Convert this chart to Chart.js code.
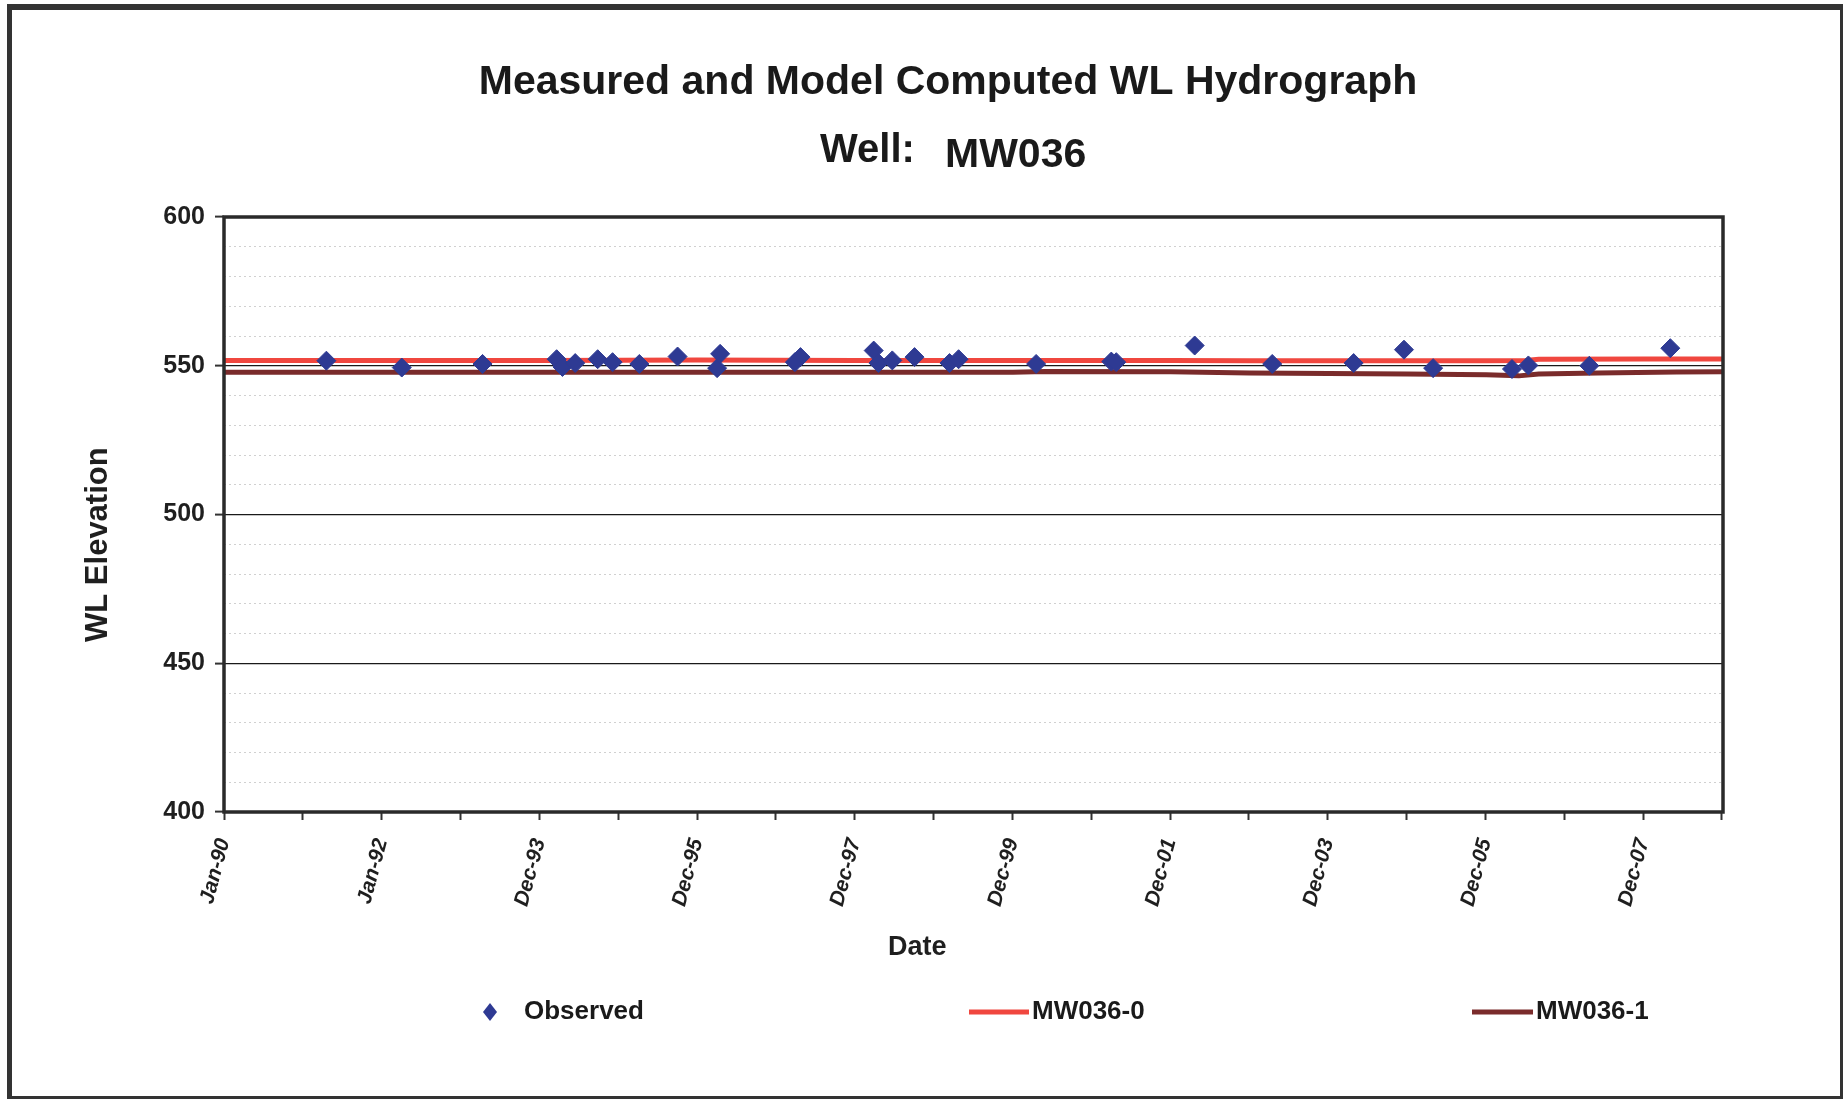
<!DOCTYPE html>
<html>
<head>
<meta charset="utf-8">
<script src="https://cdn.jsdelivr.net/npm/chart.js@4.4.1/dist/chart.umd.min.js"></script>
<style>
html,body{margin:0;padding:0;background:#fff;}
#wrap{width:1846px;height:1099px;position:relative;}
</style>
</head>
<body>
<div id="wrap"><canvas id="c" width="1846" height="1099"></canvas></div>
<script>
// ---------- text ----------
const chartTitle = 'Measured and Model Computed WL Hydrograph';
const wellLabel = 'Well:';
const wellName = 'MW036';
const xAxisTitle = 'Date';
const yAxisTitle = 'WL Elevation';
const seriesNames = ['Observed', 'MW036-0', 'MW036-1'];

// ---------- axes ----------
const xAxisStart = '1990-01-01';
const xAxisEnd = '2009-01-01';
const xTickDates = ['1990-01-01','1992-01-01','1993-12-31','1995-12-31','1997-12-30','1999-12-30','2001-12-29','2003-12-29','2005-12-28','2007-12-28'];
const xTickLabels = ['Jan-90','Jan-92','Dec-93','Dec-95','Dec-97','Dec-99','Dec-01','Dec-03','Dec-05','Dec-07'];
const yMin = 400, yMax = 600, yMajorStep = 50, yMinorStep = 10;

// ---------- observed ----------
const obsDates = ['1991-04-20','1992-04-03','1993-04-12','1994-03-21','1994-04-17','1994-06-15','1994-09-27','1994-12-05',
  '1995-04-08','1995-10-02','1996-04-02','1996-04-16','1997-03-28','1997-04-23','1998-03-28','1998-04-19',
  '1998-06-22','1998-10-03','1999-03-14','1999-04-25','2000-04-18','2001-04-01','2001-04-24','2002-04-22',
  '2003-04-16','2004-04-27','2004-12-16','2005-04-30','2006-04-30','2006-07-15','2007-04-23','2008-05-02'];
const obsValues = [551.7,549.4,550.6,552.2,549.6,550.9,552.2,551.2,
  550.6,553.1,549.2,554.0,551.2,552.9,555.1,550.9,
  551.8,552.9,550.9,552.2,550.6,551.4,551.2,556.8,
  550.6,550.9,555.4,549.2,548.9,550.1,550.0,555.9];

// ---------- model MW036-0 ----------
const model0Dates = ['1990-01-01','1992-01-01','1994-01-01','1996-01-01','1998-01-01','2000-01-01','2002-01-01','2003-01-01',
  '2004-01-01','2005-01-01','2006-01-01','2006-07-01','2006-09-01','2008-01-01','2009-01-01'];
const model0Values = [551.8,551.8,551.8,551.9,551.8,551.8,551.8,551.7,551.7,551.7,551.7,551.8,552.2,552.3,552.3];

// ---------- model MW036-1 ----------
const model1Dates = ['1990-01-01','1992-01-01','1994-01-01','1996-01-01','1998-01-01','2000-01-01','2000-06-01','2002-01-01',
  '2003-01-01','2004-01-01','2005-01-01','2006-01-01','2006-06-01','2006-09-01','2007-06-01','2008-06-01','2009-01-01'];
const model1Values = [547.8,547.8,547.8,547.8,547.8,547.8,548.1,548.0,547.6,547.4,547.2,547.0,546.6,547.2,547.6,547.9,548.0];

// ---------- helpers ----------
const DAY = 86400000;
const base = Date.parse(xAxisStart + 'T00:00:00Z');
const dayOf = d => Math.round((Date.parse(d + 'T00:00:00Z') - base) / DAY);
const toPts = (ds, vs) => ds.map((d, i) => ({x: dayOf(d), y: vs[i]}));
const xTickDays = xTickDates.map(dayOf);

const FONT = '"Liberation Sans", Arial, Helvetica, sans-serif';
const colObs = '#2e3a93';
const col0 = '#f0473f';
const col1 = '#7a2b2b';
const nb = n => '\u00a0'.repeat(n);

const framePlugin = {
  id: 'frame',
  afterDraw(chart) {
    const ctx = chart.ctx, a = chart.chartArea;
    ctx.save();
    // plot frame
    ctx.strokeStyle = '#2a2a2a';
    ctx.lineWidth = 3.5;
    ctx.strokeRect(a.left, a.top, a.right - a.left, a.bottom - a.top);
    // outer frame
    ctx.fillStyle = '#333';
    ctx.fillRect(7, 4, 1835, 6);
    ctx.fillRect(7, 4, 5, 1095);
    ctx.fillRect(1840, 4, 3, 1095);
    ctx.fillRect(7, 1096, 1836, 3);
    // titles
    ctx.fillStyle = '#1a1a1a';
    ctx.textBaseline = 'alphabetic';
    ctx.textAlign = 'center';
    ctx.font = 'bold 41px ' + FONT;
    ctx.fillText(chartTitle, 948, 94);
    ctx.textAlign = 'left';
    ctx.font = 'bold 40px ' + FONT;
    ctx.fillText(wellLabel, 820, 162);
    ctx.font = 'bold 41px ' + FONT;
    ctx.fillText(wellName, 945, 167);
    // legend
    const ly = 1012;
    const ds = chart.data.datasets;
    ctx.font = 'bold 26px ' + FONT;
    ctx.textBaseline = 'middle';
    // observed diamond
    ctx.fillStyle = ds[0].backgroundColor;
    ctx.beginPath();
    ctx.moveTo(490, ly - 9); ctx.lineTo(497, ly); ctx.lineTo(490, ly + 9); ctx.lineTo(483, ly); ctx.closePath();
    ctx.fill();
    ctx.fillStyle = '#1a1a1a';
    ctx.fillText(ds[0].label, 524, ly);
    // lines
    ctx.lineWidth = 5;
    ctx.lineCap = 'butt';
    ctx.strokeStyle = ds[1].borderColor;
    ctx.beginPath(); ctx.moveTo(969, ly); ctx.lineTo(1029, ly); ctx.stroke();
    ctx.fillText(ds[1].label, 1032, ly);
    ctx.strokeStyle = ds[2].borderColor;
    ctx.beginPath(); ctx.moveTo(1472, ly); ctx.lineTo(1533, ly); ctx.stroke();
    ctx.fillText(ds[2].label, 1536, ly);
    ctx.restore();
  }
};

new Chart(document.getElementById('c'), {
  type: 'scatter',
  data: {
    datasets: [
      {
        label: seriesNames[0],
        data: toPts(obsDates, obsValues),
        pointStyle: 'rectRot',
        pointRadius: 9.5,
        backgroundColor: colObs,
        borderColor: colObs,
        borderWidth: 1,
        showLine: false
      },
      {
        label: seriesNames[1],
        data: toPts(model0Dates, model0Values),
        showLine: true,
        pointRadius: 0,
        borderColor: col0,
        backgroundColor: col0,
        borderWidth: 5,
        tension: 0
      },
      {
        label: seriesNames[2],
        data: toPts(model1Dates, model1Values),
        showLine: true,
        pointRadius: 0,
        borderColor: col1,
        backgroundColor: col1,
        borderWidth: 5,
        tension: 0
      }
    ]
  },
  options: {
    responsive: false,
    animation: false,
    events: [],
    layout: { padding: { left: 0, right: 123, top: 217, bottom: 0 } },
    plugins: {
      legend: { display: false },
      title: { display: false },
      tooltip: { enabled: false }
    },
    scales: {
      x: {
        type: 'linear',
        min: dayOf(xAxisStart),
        max: dayOf(xAxisEnd),
        afterBuildTicks: (scale) => {
          const t = [];
          xTickDays.forEach((d, i) => {
            t.push({value: d});
            const next = i < xTickDays.length - 1 ? xTickDays[i + 1] : d + (d - xTickDays[i - 1]);
            const mid = (d + next) / 2;
            if (mid < scale.max) t.push({value: mid});
          });
          scale.ticks = t;
        },
        afterFit: (scale) => { scale.height = 1099 - 812; },
        ticks: {
          autoSkip: false,
          minRotation: 75,
          maxRotation: 75,
          padding: 16,
          color: '#1f1f1f',
          font: { family: FONT, size: 21, weight: 'bold', style: 'italic' },
          callback: (v) => { const k = xTickDays.indexOf(v); return k >= 0 ? xTickLabels[k] : ''; }
        },
        grid: {
          drawOnChartArea: false,
          drawTicks: true,
          tickLength: 8,
          tickWidth: 2,
          tickColor: '#333'
        },
        border: { display: false },
        title: {
          display: true,
          text: xAxisTitle + nb(15),
          color: '#1f1f1f',
          font: { family: FONT, size: 27, weight: 'bold' },
          padding: { top: 0, bottom: 135 }
        }
      },
      y: {
        type: 'linear',
        min: yMin,
        max: yMax,
        afterFit: (scale) => { scale.width = 224; },
        ticks: {
          stepSize: yMinorStep,
          autoSkip: false,
          padding: 10,
          color: '#1f1f1f',
          font: { family: FONT, size: 25, weight: 'bold' },
          callback: (v) => (v % yMajorStep === 0 ? String(v) : '')
        },
        grid: {
          color: (c) => (c.tick && c.tick.value % yMajorStep === 0 ? '#1a1a1a' : '#d0d0d0'),
          lineWidth: (c) => (c.tick && c.tick.value % yMajorStep === 0 ? 1.2 : 1),
          tickLength: 9,
          tickWidth: 2,
          tickColor: (c) => (c.tick && c.tick.value % yMajorStep === 0 ? '#333' : 'rgba(0,0,0,0)')
        },
        border: {
          display: false,
          dash: (c) => (c.tick && c.tick.value % yMajorStep !== 0 ? [2, 3] : [])
        },
        title: {
          display: true,
          text: yAxisTitle + nb(7),
          color: '#1f1f1f',
          font: { family: FONT, size: 31, weight: 'bold' },
          padding: { top: 80, bottom: 0 }
        }
      }
    }
  },
  plugins: [framePlugin]
});
</script>
</body>
</html>
